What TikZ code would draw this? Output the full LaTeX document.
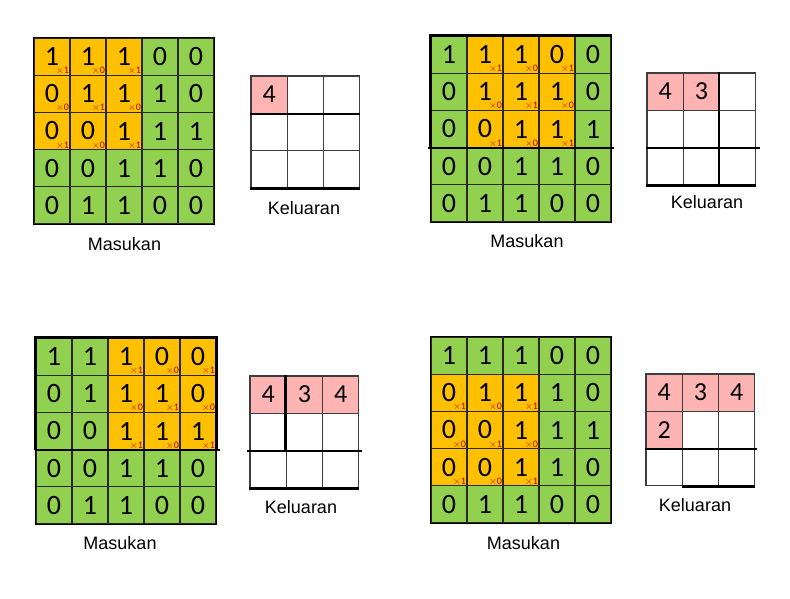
\documentclass[tikz,border=0pt]{standalone}
\usepackage{fontspec}
\setmainfont{Liberation Sans}
\newfontfamily\angka{Carlito}
\usetikzlibrary{calc}
\definecolor{hijau}{RGB}{146,208,80}
\definecolor{kuning}{RGB}{255,192,0}
\definecolor{merahmuda}{RGB}{255,180,180}
\definecolor{merahtua}{RGB}{192,0,0}
\definecolor{garis}{RGB}{40,40,40}
% data masukan (5x5) dan keluaran
\def\invals{{1,1,1,0,0,0,1,1,1,0,0,0,1,1,1,0,0,1,1,0,0,1,1,0,0}}
\def\outvals{{4,3,4,2}}
\def\cw{36}
\def\ch{37.2}
\def\ow{36.3}
\def\oh{37.3}
\tikzset{
  incell/.style={draw=garis,line width=1.1pt,minimum width=\cw pt,minimum height=\ch pt,inner sep=0pt,font=\angka\fontsize{28}{28}\selectfont},
  outcell/.style={draw=garis!90,line width=1.1pt,minimum width=\ow pt,minimum height=\oh pt,inner sep=0pt,font=\angka\fontsize{26}{26}\selectfont},
  kali/.style={inner sep=0pt,text=merahtua,font=\angka\fontsize{10}{10}\selectfont},
  tebal/.style={line width=2.6pt,black},
  bingkai/.style={line width=1.5pt,black},
  judul/.style={inner sep=0pt,font=\fontsize{18}{18}\selectfont}
}
% #1 nama, #2 x, #3 y, #4 baris kernel, #5 kolom kernel
\newcommand{\masukan}[5]{%
  \foreach \i in {0,...,4}
    \foreach \j in {0,...,4}{
      \pgfmathtruncatemacro\v{\invals[\i*5+\j]}
      \pgfmathtruncatemacro\ins{(\i>=#4)&&(\i<=#4+2)&&(\j>=#5)&&(\j<=#5+2)}
      \pgfmathtruncatemacro\k{mod(\i-#4+\j-#5+10,2)==0}
      \ifnum\ins=1
        \node[incell,fill=kuning] (#1-\i-\j) at (#2+\j*\cw+\cw/2,#3+\i*\ch+\ch/2) {\v};
        \node[kali,anchor=south east] (#1-\i-\j-k) at ($(#1-\i-\j.south east)+(-1.5,-1)$) {$\times$\k};
      \else
        \node[incell,fill=hijau] (#1-\i-\j) at (#2+\j*\cw+\cw/2,#3+\i*\ch+\ch/2) {\v};
      \fi
    }
  \draw[bingkai] (#1-0-0.north west) rectangle (#1-4-4.south east);
}
% #1 nama, #2 x, #3 y, #4 jumlah sel terisi
\newcommand{\keluaran}[4]{%
  \foreach \r in {0,1,2}
    \foreach \c in {0,1,2}{
      \pgfmathtruncatemacro\n{\r*3+\c}
      \ifnum\n<#4
        \pgfmathtruncatemacro\v{\outvals[\n]}
        \node[outcell,fill=merahmuda] (#1-\r-\c) at (#2+\c*\ow+\ow/2,#3+\r*\oh+\oh/2) {\v};
      \else
        \node[outcell,fill=white] (#1-\r-\c) at (#2+\c*\ow+\ow/2,#3+\r*\oh+\oh/2) {};
      \fi
    }
}

\begin{document}
\begin{tikzpicture}[x=1pt,y=-1pt]
  \useasboundingbox (0,0) rectangle (790,599);
  \fill[white] (0,0) rectangle (790,599);
  %LANGKAH 1
  \masukan{i1}{34}{38}{0}{0}
  \keluaran{o1}{251}{76}{1}
  \draw[tebal] (o1-0-0.south west) -- (o1-0-2.south east);
  \draw[tebal] (o1-2-0.south west) -- (o1-2-2.south east);
  \node[judul] (m1) at (124.5,244.5) {Masukan};
  \node[judul] (k1) at (304,208) {Keluaran};
  %LANGKAH 2
  \masukan{i2}{431}{36}{0}{1}
  \draw[tebal] (i2-2-0.south west) |- (i2-0-4.north east);
  \draw[tebal] ($(i2-2-0.south west)+(-2,0)$) -- ($(i2-2-4.south east)+(2,0)$);
  \keluaran{o2}{647}{73}{2}
  \draw[tebal] (o2-0-2.north west) -- (o2-2-2.south west);
  \draw[tebal] (o2-1-0.south west) -- ($(o2-1-2.south east)+(4,0)$);
  \draw[tebal] (o2-2-0.south west) -- (o2-2-2.south east);
  \node[judul] (m2) at (527,241) {Masukan};
  \node[judul] (k2) at (707,202) {Keluaran};
  %LANGKAH 3
  \masukan{i3}{36}{338}{0}{2}
  \draw[tebal] (i3-2-0.south west) |- (i3-0-4.north east) -- (i3-2-4.south east);
  \draw[tebal] (i3-2-0.south west) -- ($(i3-2-4.south east)+(3,0)$);
  \keluaran{o3}{250}{376}{3}
  \draw[tebal] (o3-0-1.north west) -- (o3-1-1.south west);
  \draw[tebal] ($(o3-1-0.south west)+(-2,0)$) -- ($(o3-1-2.south east)+(3,0)$);
  \draw[tebal] (o3-2-0.south west) -- (o3-2-2.south east);
  \node[judul] (m3) at (120,543) {Masukan};
  \node[judul] (k3) at (301,507) {Keluaran};
  %LANGKAH 4
  \masukan{i4}{431}{337}{1}{0}
  \keluaran{o4}{646}{374}{4}
  \draw[tebal] (o4-1-0.south west) -- ($(o4-1-2.south east)+(2,0)$);
  \draw[tebal] (o4-2-1.south west) -- (o4-2-2.south east);
  \node[judul] (m4) at (523.5,543) {Masukan};
  \node[judul] (k4) at (695,505) {Keluaran};
\end{tikzpicture}
\end{document}
